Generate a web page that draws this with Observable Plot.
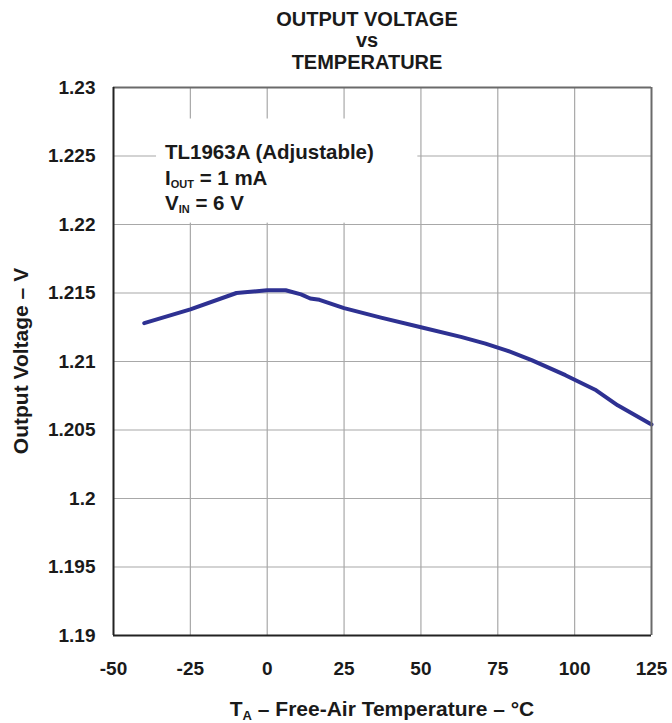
<!DOCTYPE html>
<html><head><meta charset="utf-8">
<script src="https://cdn.jsdelivr.net/npm/d3@7"></script>
<script src="https://cdn.jsdelivr.net/npm/@observablehq/plot@0.6"></script>
<style>body{margin:0;background:#fff} #c{position:relative;width:672px;height:723px}</style>
</head><body><div id="c"></div>
<script>
const temps = [-40, -25, -10, 0, 6, 11, 14, 17, 25, 37, 50, 63, 71, 78, 86, 97, 107, 114, 125];
const volts = [1.2128, 1.2138, 1.2150, 1.2152, 1.2152, 1.2149, 1.2146, 1.2145, 1.2139, 1.2132, 1.2125, 1.2118, 1.2113, 1.2108, 1.2101, 1.2090, 1.2079, 1.2068, 1.2054];
const xTicks = [-50, -25, 0, 25, 50, 75, 100, 125];
const xTickLabels = ["-50", "-25", "0", "25", "50", "75", "100", "125"];
const yTicks = [1.19, 1.195, 1.2, 1.205, 1.21, 1.215, 1.22, 1.225, 1.23];
const yTickLabels = ["1.19", "1.195", "1.2", "1.205", "1.21", "1.215", "1.22", "1.225", "1.23"];
const titleLines = ["OUTPUT VOLTAGE", "vs", "TEMPERATURE"];
const noteBox = [{x1: -36, x2: 49, y1: 1.2201, y2: 1.2277}];

const data = temps.map((t, i) => ({t, v: volts[i]}));
const font = "'Liberation Sans', Arial, Helvetica, sans-serif";

const chart = Plot.plot({
  width: 672, height: 723,
  marginLeft: 113, marginRight: 21, marginTop: 87, marginBottom: 88,
  style: {fontFamily: font, fontWeight: "bold", fontSize: "19px", color: "#1a1a1a", background: "#fff"},
  x: {domain: [-50, 125], ticks: xTicks, tickSize: 0, tickPadding: 26, label: null,
      tickFormat: d => xTickLabels[xTicks.indexOf(d)]},
  y: {domain: [1.19, 1.23], ticks: yTicks, tickSize: 0, tickPadding: 18, label: null,
      tickFormat: d => yTickLabels[yTicks.findIndex(t => Math.abs(t - d) < 1e-9)]},
  marks: [
    Plot.gridX(xTicks.slice(1, -1), {stroke: "#a8a8a8", strokeOpacity: 1, strokeWidth: 1.2}),
    Plot.gridY(yTicks.slice(1, -1), {stroke: "#a8a8a8", strokeOpacity: 1, strokeWidth: 1.2}),
    Plot.rect(noteBox, {x1: "x1", x2: "x2", y1: "y1", y2: "y2", fill: "white"}),
    Plot.line(data, {x: "t", y: "v", stroke: "#2e3192", strokeWidth: 4, strokeLinejoin: "round"}),
    Plot.ruleX([125], {stroke: "#6a6a6a", strokeWidth: 2}),
    Plot.ruleY([1.23], {stroke: "#6a6a6a", strokeWidth: 2}),
    Plot.ruleX([-50], {stroke: "#222", strokeWidth: 2}),
    Plot.ruleY([1.19], {stroke: "#222", strokeWidth: 2})
  ]
});

const svg = d3.select(chart);
const g = svg.append("g").attr("font-family", font).attr("font-weight", "bold").attr("fill", "#1a1a1a");

// Title
const titleY = [26, 47, 69];
titleLines.forEach((s, i) => {
  g.append("text").attr("x", 367).attr("y", titleY[i]).attr("text-anchor", "middle")
    .attr("font-size", 20).text(s);
});

// Y axis label
g.append("text").attr("transform", "translate(28,361) rotate(-90)").attr("text-anchor", "middle")
  .attr("font-size", 21).text("Output Voltage – V");

// X axis label
const xl = g.append("text").attr("x", 382).attr("y", 716).attr("text-anchor", "middle").attr("font-size", 21);
xl.append("tspan").text("T");
xl.append("tspan").attr("font-size", 13).attr("dy", 4).text("A");
xl.append("tspan").attr("dy", -4).text(" – Free-Air Temperature – °C");

// Annotation
const ax = 165;
const note = g.append("g").attr("text-anchor", "start").attr("font-size", 20.5);
note.append("text").attr("x", ax).attr("y", 159).text("TL1963A (Adjustable)");
const l2 = note.append("text").attr("x", ax).attr("y", 185);
l2.append("tspan").text("I");
l2.append("tspan").attr("font-size", 11).attr("dy", 3).text("OUT");
l2.append("tspan").attr("dy", -3).text(" = 1 mA");
const l3 = note.append("text").attr("x", ax).attr("y", 210);
l3.append("tspan").text("V");
l3.append("tspan").attr("font-size", 11).attr("dy", 3).text("IN");
l3.append("tspan").attr("dy", -3).text(" = 6 V");

document.getElementById("c").appendChild(chart);
</script>
</body></html>
